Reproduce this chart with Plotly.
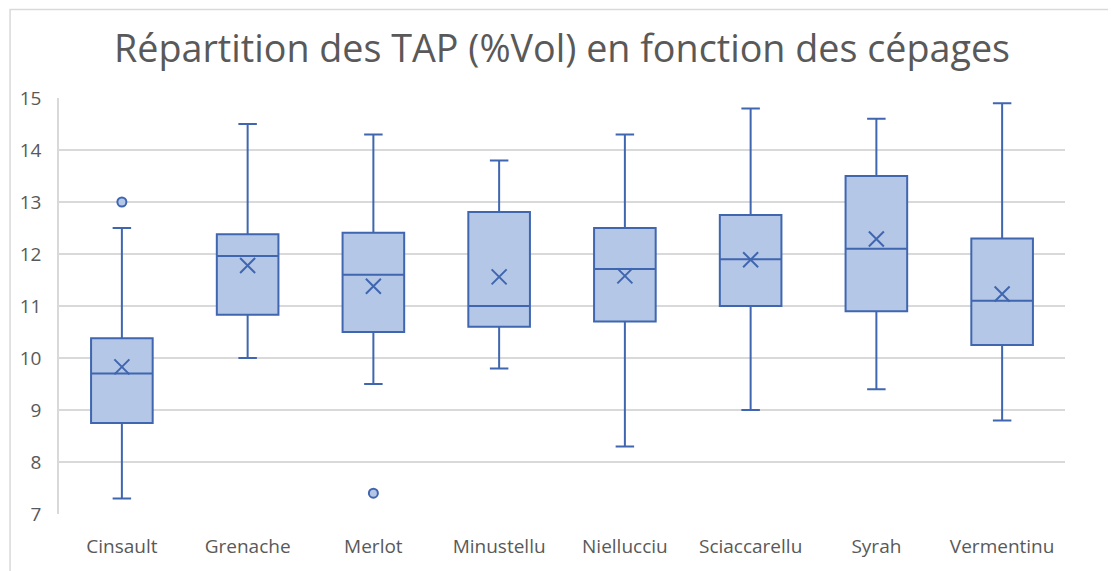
import plotly.graph_objects as go

cepages = ["Cinsault", "Grenache", "Merlot", "Minustellu", "Niellucciu",
           "Sciaccarellu", "Syrah", "Vermentinu"]
minimum = [7.3, 10.0, 9.5, 9.8, 8.3, 9.0, 9.4, 8.8]
q1 = [8.75, 10.83, 10.5, 10.6, 10.7, 11.0, 10.9, 10.25]
mediane = [9.7, 11.96, 11.6, 11.0, 11.71, 11.9, 12.1, 11.1]
q3 = [10.38, 12.38, 12.41, 12.81, 12.5, 12.75, 13.5, 12.3]
maximum = [12.5, 14.5, 14.3, 13.8, 14.3, 14.8, 14.6, 14.9]
moyenne = [9.83, 11.78, 11.38, 11.56, 11.58, 11.89, 12.29, 11.23]
outlier_cepage = ["Cinsault", "Merlot"]
outlier_valeur = [13.0, 7.4]

LINE = "#3F66AF"
FILL = "#B4C7E7"
GRID = "#D9D9D9"
FONT = "Open Sans, sans-serif"

# the page body adds an 8px margin, so the figure is 8px smaller than the window
fig = go.Figure()
fig.add_trace(go.Box(
    x=cepages, q1=q1, median=mediane, q3=q3,
    lowerfence=minimum, upperfence=maximum,
    fillcolor=FILL, line=dict(color=LINE, width=2),
    whiskerwidth=0.3, boxpoints=False, showlegend=False,
))
fig.add_trace(go.Scatter(
    x=cepages, y=moyenne, mode="markers", showlegend=False,
    marker=dict(symbol="x-thin", size=15, line=dict(color=LINE, width=2)),
))
fig.add_trace(go.Scatter(
    x=outlier_cepage, y=outlier_valeur, mode="markers", showlegend=False,
    marker=dict(symbol="circle", size=9, color=FILL, line=dict(color=LINE, width=2)),
))

fig.update_layout(
    width=1108, height=563,
    paper_bgcolor="white", plot_bgcolor="white",
    font=dict(family=FONT, color="#595959", size=16),
    title=dict(text="Répartition des TAP (%Vol) en fonction des cépages",
               x=0.5, xanchor="center", y=0.928, yanchor="middle",
               font=dict(size=37.7, color="#595959", family=FONT)),
    margin=dict(l=50, r=51, t=90, b=55),
    boxgap=0.51, boxgroupgap=0,
    shapes=[dict(type="rect", xref="paper", yref="paper",
                 x0=-49 / 1007, x1=1.06, y0=-0.2, y1=1 + 89 / 418,
                 line=dict(color=GRID, width=1.5), layer="below")],
)
fig.update_xaxes(showgrid=False, showline=False, ticks="", ticklabelstandoff=19,
                 tickfont=dict(size=19, color="#595959"))
fig.update_yaxes(range=[7, 15], dtick=1, showgrid=True, gridcolor=GRID, gridwidth=1.5,
                 showline=True, linecolor=GRID, linewidth=1.5, zeroline=False,
                 ticks="", ticklabelstandoff=12,
                 tickfont=dict(size=19, color="#595959"))

fig.write_html("out.html")
